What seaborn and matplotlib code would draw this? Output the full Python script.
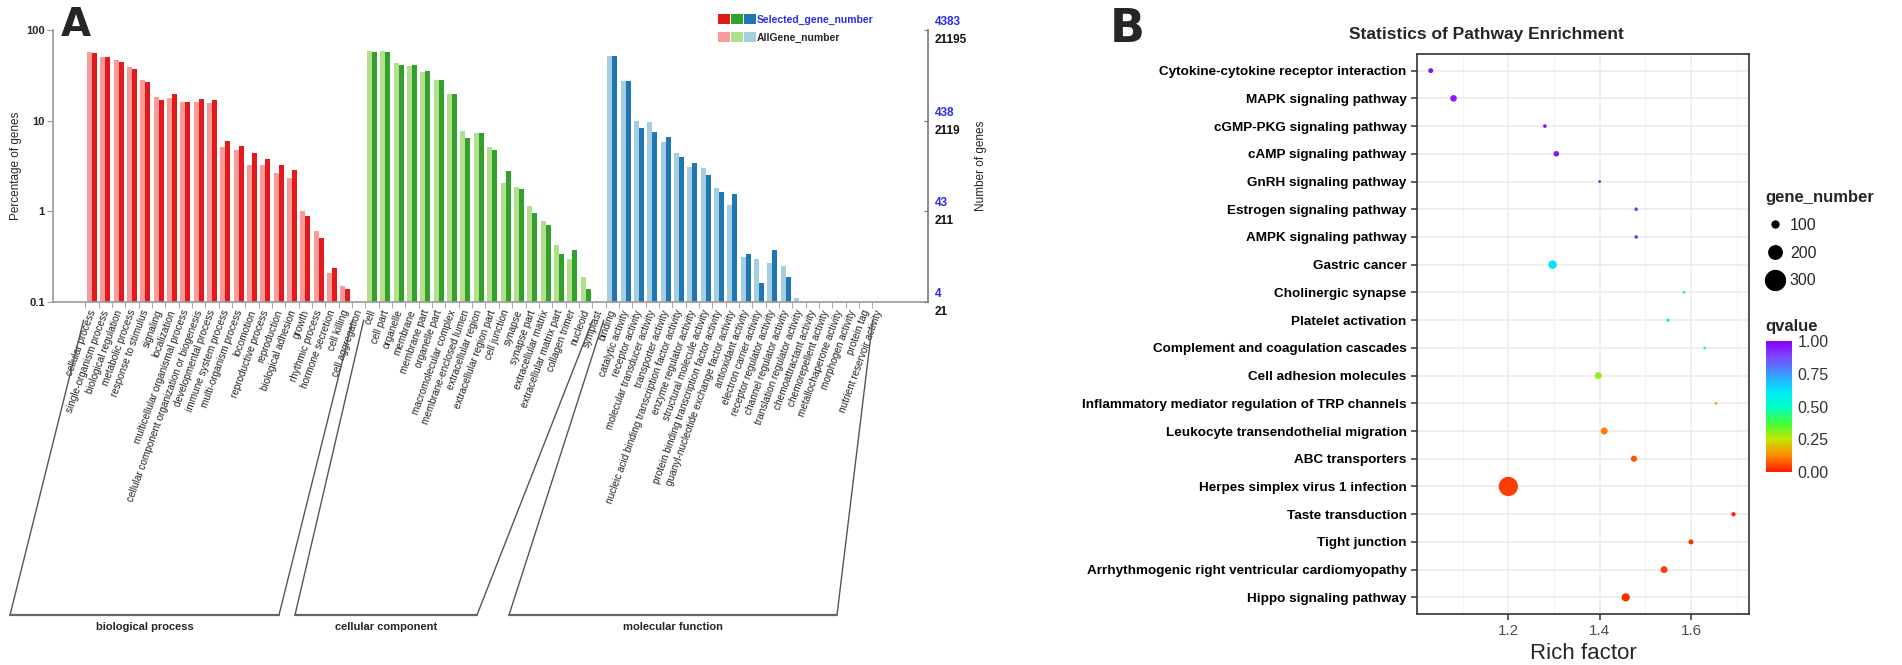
"""
GO annotation bar chart (A) and KEGG enrichment bubble chart (B).
"""
import numpy as np
import pandas as pd
import matplotlib
matplotlib.use("Agg")
import matplotlib.pyplot as plt
import matplotlib.transforms as mtransforms
import seaborn as sns
from matplotlib.colors import LinearSegmentedColormap, Normalize
from matplotlib.legend_handler import HandlerTuple
from matplotlib.lines import Line2D
from matplotlib.patches import Patch
from matplotlib.ticker import NullLocator

# ---------------- panel A data (percent of genes) ----------------
bp_terms = ["cellular process", "single-organism process", "biological regulation",
            "metabolic process", "response to stimulus", "signaling", "localization",
            "multicellular organismal process", "cellular component organization or biogenesis",
            "developmental process", "immune system process", "multi-organism process",
            "locomotion", "reproductive process", "reproduction", "biological adhesion",
            "growth", "rhythmic process", "hormone secretion", "cell killing", "cell aggregation"]
bp_all = [57.6, 50.7, 46.6, 39.3, 28.0, 18.4, 17.9, 16.2, 16.2, 15.5, 5.16, 4.74,
          3.24, 3.24, 2.62, 2.35, 1.0, 0.6, 0.207, 0.15, 0.05]
bp_sel = [56.0, 50.7, 44.0, 36.8, 26.9, 16.9, 19.5, 16.2, 17.3, 16.9, 6.0, 5.3,
          4.43, 3.74, 3.24, 2.85, 0.89, 0.51, 0.235, 0.138, 0.02]

cc_terms = ["cell", "cell part", "organelle", "membrane", "membrane part", "organelle part",
            "macromolecular complex", "membrane-enclosed lumen", "extracellular region",
            "extracellular region part", "cell junction", "synapse", "synapse part",
            "extracellular matrix", "extracellular matrix part", "collagen trimer",
            "nucleoid", "symplast"]
cc_all = [59.0, 59.0, 42.9, 40.4, 34.7, 28.0, 19.5, 7.7, 7.25, 5.16, 2.07, 1.87,
          1.15, 0.78, 0.42, 0.30, 0.19, 0.01]
cc_sel = [56.7, 56.7, 41.0, 41.0, 35.0, 28.0, 19.5, 6.4, 7.25, 4.75, 2.8, 1.76,
          0.95, 0.71, 0.34, 0.37, 0.138, 0.0]

mf_terms = ["binding", "catalytic activity", "receptor activity", "molecular transducer activity",
            "transporter activity", "nucleic acid binding transcription factor activity",
            "enzyme regulator activity", "structural molecule activity",
            "protein binding transcription factor activity",
            "guanyl-nucleotide exchange factor activity", "antioxidant activity",
            "electron carrier activity", "receptor regulator activity",
            "channel regulator activity", "translation regulator activity",
            "chemoattractant activity", "chemorepellent activity", "metallochaperone activity",
            "morphogen activity", "protein tag", "nutrient reservoir activity"]
mf_all = [51.6, 27.6, 9.9, 9.6, 5.86, 4.36, 3.1, 2.98, 1.82, 1.17, 0.31, 0.295,
          0.267, 0.249, 0.112, 0.02, 0.01, 0.01, 0.01, 0.01, 0.01]
mf_sel = [51.6, 27.6, 8.2, 7.55, 6.65, 4.0, 3.44, 2.51, 1.64, 1.54, 0.34, 0.163,
          0.374, 0.187, 0.0, 0.0, 0.0, 0.0, 0.0, 0.0, 0.0]

group_names = ["biological process", "cellular component", "molecular function"]

# right axis: gene counts matching 100 / 10 / 1 / 0.1 percent
pct_ticks = [100, 10, 1, 0.1]
sel_counts = ["4383", "438", "43", "4"]
all_counts = ["21195", "2119", "211", "21"]

# ---------------- panel B data ----------------
pathways = ["Cytokine-cytokine receptor interaction", "MAPK signaling pathway",
            "cGMP-PKG signaling pathway", "cAMP signaling pathway", "GnRH signaling pathway",
            "Estrogen signaling pathway", "AMPK signaling pathway", "Gastric cancer",
            "Cholinergic synapse", "Platelet activation", "Complement and coagulation cascades",
            "Cell adhesion molecules", "Inflammatory mediator regulation of TRP channels",
            "Leukocyte transendothelial migration", "ABC transporters",
            "Herpes simplex virus 1 infection", "Taste transduction", "Tight junction",
            "Arrhythmogenic right ventricular cardiomyopathy", "Hippo signaling pathway"]
rich_factor = [1.03, 1.08, 1.28, 1.305, 1.40, 1.48, 1.48, 1.297, 1.585, 1.55,
               1.63, 1.397, 1.655, 1.41, 1.475, 1.20, 1.693, 1.60, 1.541, 1.457]
qvalue = [0.97, 0.95, 0.98, 0.96, 1.0, 0.90, 0.92, 0.62, 0.56, 0.60,
          0.52, 0.30, 0.15, 0.11, 0.07, 0.04, 0.01, 0.02, 0.04, 0.02]
gene_number = [70, 95, 50, 80, 35, 50, 50, 125, 35, 45,
               35, 100, 35, 100, 90, 290, 60, 70, 100, 120]
size_legend = [100, 200, 300]
q_ticks = [0.0, 0.25, 0.5, 0.75, 1.0]

# ColorBrewer "Paired" pairs: (light, dark)
GROUP_COLORS = {"biological process": ("#FB9A99", "#E31A1C"),
                "cellular component": ("#B2DF8A", "#33A02C"),
                "molecular function": ("#A6CEE3", "#1F78B4")}
# pixel x of each bracket's bottom corners
BRACKET_BOTTOM = [(10, 279), (295, 477), (509, 837)]

QCMAP = LinearSegmentedColormap.from_list(
    "q", ["#FF1A00", "#FF8A00", "#C4E800", "#3CFF3C", "#00FFC8",
          "#00E6FF", "#3C96FF", "#7A4BFF", "#8A00FF"])

W, H = 1902, 665


def px_axes(fig, l, t, r, b):
    return fig.add_axes([l / W, 1 - b / H, (r - l) / W, (b - t) / H])


def dot_pt(n):
    """marker diameter in points for a gene count"""
    return (0.4 + 0.065 * n) * 0.72


def plot_go(fig):
    terms = bp_terms + cc_terms + mf_terms
    groups = ([group_names[0]] * len(bp_terms) + [group_names[1]] * len(cc_terms)
              + [group_names[2]] * len(mf_terms))
    df = pd.DataFrame({
        "term": terms * 2,
        "kind": ["AllGene_number"] * len(terms) + ["Selected_gene_number"] * len(terms),
        "pct": bp_all + cc_all + mf_all + bp_sel + cc_sel + mf_sel,
    })

    ax = px_axes(fig, 53, 30, 928, 302)
    sns.barplot(data=df, x="term", y="pct", hue="kind", order=terms,
                hue_order=["AllGene_number", "Selected_gene_number"],
                width=0.75, errorbar=None, legend=False, saturation=1, ax=ax)
    for shade, cont in enumerate(ax.containers):
        for bar, g in zip(cont, groups):
            bar.set_facecolor(GROUP_COLORS[g][shade])
            bar.set_edgecolor("none")

    ax.set_yscale("log")
    ax.set_ylim(0.1, 100)
    ax.set_xlim(-2.93, 62.68)
    ax.yaxis.set_minor_locator(NullLocator())
    ax.set_yticks(pct_ticks)
    ax.set_yticklabels(["100", "10", "1", "0.1"], fontsize=8, fontweight="bold")
    ax.tick_params(axis="y", length=4, color="#999999", pad=2)

    idx = np.arange(len(terms))
    ax.set_xticks(idx + 0.05)
    ax.set_xticklabels(terms, rotation=70, rotation_mode="anchor", ha="right",
                       va="center", fontsize=7.2, color="#222222")
    ax.set_xticks(idx - 0.5, minor=True)
    ax.tick_params(axis="x", which="major", length=0, pad=6)
    ax.tick_params(axis="x", which="minor", length=4, color="#999999")
    ax.set_xlabel("")
    ax.set_ylabel("Percentage of genes", fontsize=8.5)
    ax.yaxis.set_label_coords(-31 / 875, 0.5)

    for side in ["left", "bottom"]:
        ax.spines[side].set_color("#999999")
        ax.spines[side].set_linewidth(1.2)
    ax.spines["top"].set_visible(False)
    ax.spines["right"].set_visible(False)

    # right axis with gene numbers
    ax2 = ax.twinx()
    ax2.set_yscale("log")
    ax2.set_ylim(0.1, 100)
    ax2.yaxis.set_minor_locator(NullLocator())
    ax2.set_yticks(pct_ticks)
    ax2.set_yticklabels([""] * 4)
    ax2.tick_params(axis="y", direction="in", length=3, color="#777777")
    for side in ["left", "top", "bottom"]:
        ax2.spines[side].set_visible(False)
    ax2.spines["right"].set_color("#777777")
    ax2.spines["right"].set_linewidth(1.2)
    ax2.set_ylabel("Number of genes", fontsize=8.5)
    ax2.yaxis.set_label_coords(1 + 47 / 875, 0.5)
    up = mtransforms.offset_copy(ax.get_yaxis_transform(), fig=fig, x=7, y=8, units="dots")
    dn = mtransforms.offset_copy(ax.get_yaxis_transform(), fig=fig, x=7, y=-10, units="dots")
    for p, s, a in zip(pct_ticks, sel_counts, all_counts):
        ax.text(1.0, p, s, transform=up, color="#2B2BE8", fontsize=8.5,
                fontweight="bold", va="center", ha="left")
        ax.text(1.0, p, a, transform=dn, color="#111111", fontsize=8.5,
                fontweight="bold", va="center", ha="left")

    # group brackets below the labels
    tr = ax.get_xaxis_transform()
    to_data = ax.transData.inverted()
    y_top, y_bot = -18 / 272, -313 / 272
    start = 0
    for name, n, (bl, br) in zip(group_names, [len(bp_terms), len(cc_terms), len(mf_terms)],
                                 BRACKET_BOTTOM):
        first, last = start, start + n - 1
        xl, xr = first - 0.63, last - 0.46
        bxl = to_data.transform((bl, 0))[0]
        bxr = to_data.transform((br, 0))[0]
        ax.plot([xl, bxl], [y_top, y_bot], transform=tr, clip_on=False,
                color="#555555", lw=1.0)
        ax.plot([xr, bxr], [y_top, y_bot], transform=tr, clip_on=False,
                color="#555555", lw=1.0)
        ax.plot([bxl, bxr], [y_bot, y_bot], transform=tr, clip_on=False,
                color="#666666", lw=1.6)
        ax.text((bxl + bxr) / 2, -325 / 272, name, transform=tr,
                ha="center", va="center", fontsize=8, fontweight="bold")
        start += n

    # legend with three colour squares per row
    dark = tuple(Patch(fc=GROUP_COLORS[g][1], ec="none") for g in group_names)
    light = tuple(Patch(fc=GROUP_COLORS[g][0], ec="none") for g in group_names)
    leg = ax.legend([dark, light], ["Selected_gene_number", "AllGene_number"],
                    handler_map={tuple: HandlerTuple(ndivide=None, pad=0.1)},
                    loc="upper left", bbox_to_anchor=(718 / W, 1 - 14 / H),
                    bbox_transform=fig.transFigure, frameon=False, fontsize=7.5,
                    handlelength=3.6, handleheight=1.1, handletextpad=0.15,
                    labelspacing=0.75, borderpad=0, borderaxespad=0)
    leg.get_texts()[0].set_color("#2B2BE8")
    for t in leg.get_texts():
        t.set_fontweight("bold")

    fig.text(61 / W, 1 - 25 / H, "A", fontsize=28, fontweight="bold", va="center",
             family="DejaVu Sans")


def plot_kegg(fig):
    df = pd.DataFrame({"pathway": pathways, "rich_factor": rich_factor,
                       "qvalue": qvalue, "gene_number": gene_number})
    sizes = {n: dot_pt(n) ** 2 for n in set(gene_number)}

    ax = px_axes(fig, 1417, 54, 1749, 614)
    ax.set_axisbelow(True)
    sns.scatterplot(data=df, x="rich_factor", y="pathway", hue="qvalue",
                    hue_norm=(0, 1), palette=QCMAP, size="gene_number", sizes=sizes,
                    linewidth=0, legend=False, ax=ax, zorder=3)
    ax.set_ylim(len(pathways) - 0.4, -0.6)
    ax.set_yticks(range(len(pathways)))
    ax.set_yticklabels(pathways, fontsize=9.7, fontweight="bold", color="black")
    ax.set_xlim(1.0, 1.727)
    ax.set_xticks([1.2, 1.4, 1.6])
    ax.set_xticklabels(["1.2", "1.4", "1.6"], fontsize=11, color="#4D4D4D")
    ax.set_xticks([1.1, 1.3, 1.5, 1.7], minor=True)
    ax.grid(True, which="major", color="#EBEBEB", lw=1.1)
    ax.grid(True, which="minor", axis="x", color="#F2F2F2", lw=0.6)
    ax.tick_params(axis="both", which="major", length=4, width=1.1, color="#333333")
    ax.tick_params(axis="x", which="minor", length=0)
    for s in ax.spines.values():
        s.set_color("#333333")
        s.set_linewidth(1.2)
    ax.set_ylabel("")
    ax.set_xlabel("Rich factor", fontsize=16, labelpad=3)

    fig.text(1486 / W, 1 - 35 / H, "Statistics of Pathway Enrichment",
             fontsize=12.5, fontweight="bold", ha="center", va="center")
    fig.text(1110 / W, 1 - 29 / H, "B", fontsize=33, fontweight="bold", va="center",
             family="DejaVu Sans")

    # size legend
    handles = [Line2D([], [], ls="", marker="o", markersize=dot_pt(n),
                      mfc="black", mec="black") for n in size_legend]
    fig.legend(handles, [str(n) for n in size_legend], title="gene_number",
               loc="upper left", bbox_to_anchor=(1765 / W, 1 - 190 / H),
               frameon=False, fontsize=11.5, alignment="left",
               title_fontproperties={"weight": "bold", "size": 12},
               handlelength=1.2, handletextpad=0.35, labelspacing=0.8,
               borderpad=0, borderaxespad=0)

    # colour bar for qvalue
    cax = px_axes(fig, 1766, 341, 1792, 472)
    sm = plt.cm.ScalarMappable(norm=Normalize(0, 1), cmap=QCMAP)
    cb = fig.colorbar(sm, cax=cax, ticks=q_ticks)
    cb.ax.set_yticklabels([f"{q:.2f}" for q in q_ticks], fontsize=11.5, color="#333333")
    cb.outline.set_visible(False)
    cb.ax.tick_params(length=5, color="white", direction="in", width=1, pad=4)
    fig.text(1765 / W, 1 - 327 / H, "qvalue", fontsize=12, fontweight="bold", va="center")


def main():
    sns.set_style("ticks")
    plt.rcParams["font.family"] = ["Liberation Sans", "DejaVu Sans"]
    fig = plt.figure(figsize=(W / 100, H / 100), dpi=100)
    plot_go(fig)
    plot_kegg(fig)
    fig.savefig("out.png", dpi=100)


if __name__ == "__main__":
    main()
